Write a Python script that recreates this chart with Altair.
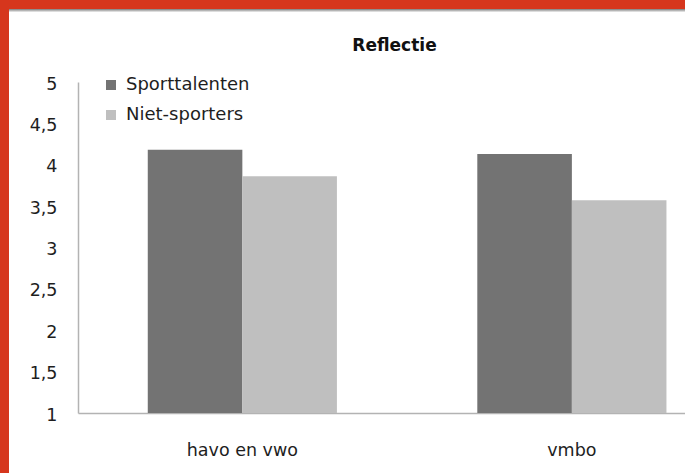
import altair as alt
import pandas as pd

# Scores on "Reflectie" per school type
categories = ["havo en vwo", "vmbo"]
groups = ["Sporttalenten", "Niet-sporters"]
sporttalenten = [4.18, 4.13]
niet_sporters = [3.86, 3.57]
y_ticks = [1, 1.5, 2, 2.5, 3, 3.5, 4, 4.5, 5]
bar_colors = ["#737373", "#bfbfbf"]

rows = []
for i, cat in enumerate(categories):
    rows.append({"schooltype": cat, "groep": groups[0], "score": sporttalenten[i]})
    rows.append({"schooltype": cat, "groep": groups[1], "score": niet_sporters[i]})
df = pd.DataFrame(rows)

FONT = "DejaVu Sans"
TEXT = "#1e1e1e"
AXIS = "#b3b3b3"
RED = "#d6361d"

W, H = 607, 331
PAD_L, PAD_T = 78, 82

bars = alt.Chart(df).mark_bar().encode(
    x=alt.X(
        "schooltype:N",
        sort=categories,
        scale=alt.Scale(paddingInner=0.426, paddingOuter=0.134, align=0.79),
        axis=alt.Axis(
            title=None, labelAngle=0, ticks=False, tickSize=0, labelPadding=28,
            labelFont=FONT, labelFontSize=17.5, labelColor=TEXT,
            domainColor=AXIS, domainWidth=1.5,
        ),
    ),
    xOffset=alt.XOffset("groep:N", sort=groups,
                        scale=alt.Scale(paddingInner=0, paddingOuter=0)),
    y=alt.Y(
        "score:Q",
        scale=alt.Scale(domain=[1, 5], zero=False, nice=False),
        axis=alt.Axis(
            title=None, values=y_ticks, grid=False, ticks=False, tickSize=0,
            labelPadding=21, labelOffset=2,
            labelExpr="replace(format(datum.value, '.1~f'), '.', ',')",
            labelFont=FONT, labelFontSize=17.5, labelColor=TEXT,
            domainColor=AXIS, domainWidth=1.5,
        ),
    ),
    y2=alt.datum(1),
    color=alt.Color(
        "groep:N",
        sort=groups,
        scale=alt.Scale(domain=groups, range=bar_colors),
        legend=alt.Legend(
            title=None, orient="none", legendX=24, legendY=-6,
            symbolType="square", symbolSize=100, symbolStrokeWidth=0,
            labelFont=FONT, labelFontSize=18, labelColor=TEXT,
            labelOffset=6, rowPadding=12, padding=0,
        ),
    ),
)

one = alt.Data(values=[{"k": 1}])

# shadow under the top border
shadow = alt.Chart(one).mark_rect(
    fill=alt.LinearGradient(
        gradient="linear",
        stops=[alt.GradientStop(color="#7a7a7a", offset=0),
               alt.GradientStop(color="#f0f0f0", offset=1)],
        x1=0, x2=0, y1=0, y2=1,
    )
).encode(x=alt.value(-PAD_L), x2=alt.value(W), y=alt.value(-PAD_T + 9), y2=alt.value(-PAD_T + 12))

top_border = alt.Chart(one).mark_rect(color=RED).encode(
    x=alt.value(-PAD_L), x2=alt.value(W), y=alt.value(-PAD_T), y2=alt.value(-PAD_T + 9)
)
left_border = alt.Chart(one).mark_rect(color=RED).encode(
    x=alt.value(-PAD_L), x2=alt.value(-PAD_L + 9), y=alt.value(-PAD_T), y2=alt.value(473 - PAD_T)
)

# the border rects reach the top edge, so the title offset is negative
chart = alt.layer(bars, shadow, top_border, left_border).properties(
    width=W,
    height=H,
    padding={"left": PAD_L, "top": PAD_T, "right": 0, "bottom": 473 - PAD_T - H},
    autosize="none",
    background="white",
    title=alt.TitleParams(
        "Reflectie", font=FONT, fontSize=17, fontWeight="bold", color="#111111",
        anchor="middle", dx=13, baseline="alphabetic", offset=-68,
    ),
).configure_view(stroke=None)

chart.save("out.html", embed_options={"renderer": "svg", "actions": False})
